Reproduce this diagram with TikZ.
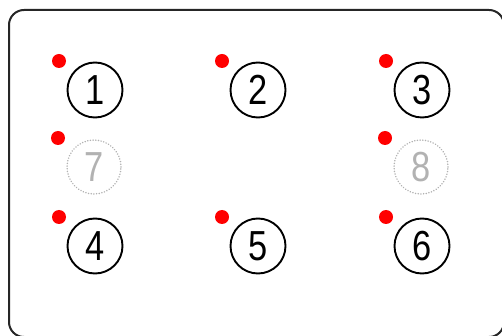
\documentclass[tikz,border=0pt]{standalone}
\usepackage{fontspec}
\usetikzlibrary{calc}
\newfontfamily\numfont[FakeStretch=0.82]{Liberation Sans}
\begin{document}
\begin{tikzpicture}[x=1pt,y=-1pt,
  seat/.style={circle,draw=black,line width=1.9pt,minimum size=55pt,inner sep=0pt,font=\numfont\fontsize{42}{42}\selectfont},
  ghost/.style={circle,draw=gray!60,line width=1.6pt,dash pattern=on 0.1pt off 2.6pt,line cap=round,minimum size=54pt,inner sep=0pt,text=gray!60,font=\numfont\fontsize{42}{42}\selectfont},
  reddot/.style={circle,fill=red,draw=none,minimum size=14pt,inner sep=0pt}]
\useasboundingbox (0,0) rectangle (502,336);
\draw[line width=2pt,draw=black!85,rounded corners=15pt] (9,10) rectangle (504,337);
\node[seat] (s1) at (95,90) {1};
\node[seat] (s2) at (258,90) {2};
\node[seat] (s3) at (422,90) {3};
\node[ghost] (s7) at (94,167) {7};
\node[ghost] (s8) at (421,167) {8};
\node[seat] (s4) at (95,246) {4};
\node[seat] (s5) at (258,246) {5};
\node[seat] (s6) at (422,246) {6};
\foreach \s in {1,2,3,7,8,4,5,6}{
  \node[reddot] (d\s) at ($(s\s.center)+(-36,-29)$) {};
}
\end{tikzpicture}
\end{document}
